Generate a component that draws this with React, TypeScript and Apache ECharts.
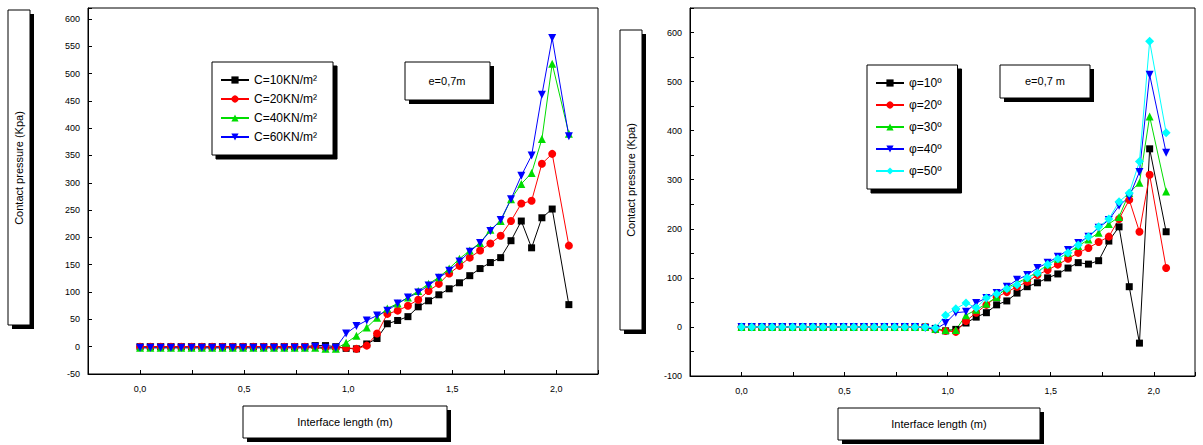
import { useEffect, useRef } from 'react';
import * as echarts from 'echarts';

// shared x positions (m): 41 evenly spaced points + last point
const xPos = [
  0, 0.0495, 0.099, 0.1485, 0.198, 0.2475, 0.297, 0.3465, 0.396, 0.4455,
  0.495, 0.5445, 0.594, 0.6435, 0.693, 0.7425, 0.792, 0.8415, 0.891, 0.9405,
  0.99, 1.0395, 1.089, 1.1385, 1.188, 1.2375, 1.287, 1.3365, 1.386, 1.4355,
  1.485, 1.5345, 1.584, 1.6335, 1.683, 1.7325, 1.782, 1.8315, 1.881, 1.9305,
  1.98, 2.06,
];

// left chart: cohesion
const c10 = [
  0, 0, 0, 0, 0, 0, 0, 0, 0, 0, 0, 0, 0, 0, 0, 0, 0, 2, 2, 0,
  -3, -4, 5, 15, 42, 48, 55, 73, 84, 95, 106, 117, 130, 143, 154, 163, 194, 230, 181, 236,
  252, 77,
];
const c20 = [
  0, 0, 0, 0, 0, 0, 0, 0, 0, 0, 0, 0, 0, 0, 0, 0, 0, 0, -2, -2,
  -2, -4, 2, 24, 60, 66, 75, 86, 102, 115, 134, 148, 163, 176, 189, 203, 230, 262, 267, 335,
  353, 185,
];
const c40 = [
  -2, -2, -2, -2, -2, -2, -2, -2, -2, -2, -2, -2, -2, -2, -2, -2, -2, -2, -4, -4,
  7, 20, 35, 53, 70, 79, 90, 102, 115, 127, 143, 161, 176, 190, 214, 230, 270, 298, 318, 380,
  518, 390,
];
const c60 = [
  -2, -2, -2, -2, -2, -2, -2, -2, -2, -2, -2, -2, -2, -2, -2, -2, -2, 0, -2, -2,
  24, 38, 48, 57, 66, 79, 90, 99, 112, 126, 139, 156, 174, 190, 212, 232, 270, 313, 350, 461,
  565, 385,
];

// right chart: friction angle
const p10 = [
  0, 0, 0, 0, 0, 0, 0, 0, 0, 0, 0, 0, 0, 0, 0, 0, 0, 0, 0, -3,
  -8, -5, 8, 20, 29, 45, 53, 69, 82, 90, 100, 108, 120, 131, 128, 135, 175, 204, 82, -33,
  363, 194,
];
const p20 = [
  0, 0, 0, 0, 0, 0, 0, 0, 0, 0, 0, 0, 0, 0, 0, 0, 0, 0, 0, -5,
  -8, -10, 12, 29, 45, 61, 71, 82, 92, 106, 116, 127, 139, 151, 161, 173, 184, 220, 259, 194,
  310, 120,
];
const p30 = [
  0, 0, 0, 0, 0, 0, 0, 0, 0, 0, 0, 0, 0, 0, 0, 0, 0, 0, 0, -4,
  -6, -6, 24, 35, 47, 61, 80, 90, 100, 112, 127, 139, 151, 165, 178, 192, 210, 224, 273, 294,
  429, 276,
];
const p40 = [
  0, 0, 0, 0, 0, 0, 0, 0, 0, 0, 0, 0, 0, 0, 0, 0, 0, 0, -2, -5,
  8, 29, 31, 49, 59, 69, 82, 96, 106, 120, 131, 143, 157, 171, 184, 202, 218, 247, 265, 316,
  514, 355,
];
const p50 = [
  0, 0, 0, 0, 0, 0, 0, 0, 0, 0, 0, 0, 0, 0, 0, 0, 0, 0, 0, -2,
  24, 37, 49, 39, 59, 67, 78, 86, 100, 110, 127, 139, 151, 167, 184, 204, 220, 255, 273, 337,
  582, 396,
];

const leftNames = ['C=10KN/m²', 'C=20KN/m²', 'C=40KN/m²', 'C=60KN/m²'];
const rightNames = ['φ=10º', 'φ=20º', 'φ=30º', 'φ=40º', 'φ=50º'];

const FONT = 'Liberation Sans, Arial, sans-serif';
const invTri = 'path://M0,0 L10,0 L5,9 Z';

function pairs(ys: number[]) {
  return ys.map((y, i) => [xPos[i], y]);
}

function boxed(x: number, y: number, w: number, h: number, children: any[] = []) {
  return [
    { type: 'rect', shape: { x: x + 4, y: y + 4, width: w, height: h }, style: { fill: '#000' } },
    { type: 'rect', shape: { x, y, width: w, height: h }, style: { fill: '#fff', stroke: '#000', lineWidth: 1 } },
    ...children,
  ];
}

export default function App() {
  const ref = useRef<HTMLDivElement>(null);

  useEffect(() => {
    if (!ref.current) return;
    const chart = echarts.init(ref.current, undefined, { renderer: 'svg' });

    const xAxisBase = {
      type: 'value',
      min: -0.25,
      max: 2.2,
      interval: 0.25,
      axisLine: { show: true, onZero: false, lineStyle: { color: '#000' } },
      axisTick: { show: true, inside: true, length: 4, lineStyle: { color: '#000' } },
      axisLabel: {
        color: '#000', fontSize: 9, fontFamily: FONT, margin: 10,
        formatter: (v: number) => (Math.abs(v * 2 - Math.round(v * 2)) < 1e-6 && v >= 0
          ? v.toFixed(1).replace('.', ',') : ''),
      },
      splitLine: { show: false },
    };
    const yAxisBase = {
      type: 'value',
      axisLine: { show: true, onZero: false, lineStyle: { color: '#000' } },
      axisTick: { show: true, inside: true, length: 4, lineStyle: { color: '#000' } },
      axisLabel: { color: '#000', fontSize: 9, fontFamily: FONT, margin: 8 },
      splitLine: { show: false },
    };

    const mk = (name: string, data: number[], color: string, symbol: string, xi: number, size = 7) => ({
      name,
      type: 'line',
      xAxisIndex: xi,
      yAxisIndex: xi,
      data: pairs(data),
      symbol,
      symbolSize: size,
      lineStyle: { color, width: 1 },
      itemStyle: { color },
    });

    chart.setOption({
      animation: false,
      textStyle: { fontFamily: FONT },
      grid: [
        { left: 88, top: 8, width: 510, height: 366, show: true, borderColor: '#000', borderWidth: 1 },
        { left: 690, top: 8, width: 505, height: 368, show: true, borderColor: '#000', borderWidth: 1 },
      ],
      xAxis: [
        { ...xAxisBase, gridIndex: 0 },
        { ...xAxisBase, gridIndex: 1 },
      ],
      yAxis: [
        { ...yAxisBase, gridIndex: 0, min: -50, max: 620, interval: 50,
          axisLabel: { ...yAxisBase.axisLabel, formatter: (v: number) => (v > 600 ? '' : String(v)) } },
        { ...yAxisBase, gridIndex: 1, min: -100, max: 650, interval: 50,
          axisLabel: { ...yAxisBase.axisLabel, formatter: (v: number) => (v % 100 === 0 && v <= 600 ? String(v) : '') } },
      ],
      legend: [
        {
          data: leftNames, orient: 'vertical', left: 212, top: 62, itemGap: 7,
          itemWidth: 28, itemHeight: 9, padding: [12, 16, 12, 8],
          borderColor: '#000', borderWidth: 1, backgroundColor: '#fff',
          shadowColor: '#000', shadowOffsetX: 4, shadowOffsetY: 4,
          textStyle: { fontSize: 12, color: '#000', fontFamily: FONT },
        },
        {
          data: rightNames, orient: 'vertical', left: 867, top: 65, itemGap: 10,
          itemWidth: 28, itemHeight: 9, padding: [12, 16, 12, 8],
          borderColor: '#000', borderWidth: 1, backgroundColor: '#fff',
          shadowColor: '#000', shadowOffsetX: 4, shadowOffsetY: 4,
          textStyle: { fontSize: 12, color: '#000', fontFamily: FONT },
        },
      ],
      series: [
        mk(leftNames[0], c10, '#000000', 'rect', 0),
        mk(leftNames[1], c20, '#ff0000', 'circle', 0, 8),
        mk(leftNames[2], c40, '#00dd00', 'triangle', 0, 8),
        mk(leftNames[3], c60, '#0000ff', invTri, 0, 8),
        mk(rightNames[0], p10, '#000000', 'rect', 1),
        mk(rightNames[1], p20, '#ff0000', 'circle', 1, 8),
        mk(rightNames[2], p30, '#00dd00', 'triangle', 1, 8),
        mk(rightNames[3], p40, '#0000ff', invTri, 1, 8),
        mk(rightNames[4], p50, '#00ffff', 'diamond', 1, 9),
      ],
      graphic: [
        ...boxed(405, 62, 85, 38, [
          { type: 'text', x: 447, y: 81, style: { text: 'e=0,7m', fontSize: 11, fontFamily: FONT, fill: '#000', align: 'center', verticalAlign: 'middle' } },
        ]),
        ...boxed(1000, 65, 90, 33, [
          { type: 'text', x: 1045, y: 81, style: { text: 'e=0,7 m', fontSize: 11, fontFamily: FONT, fill: '#000', align: 'center', verticalAlign: 'middle' } },
        ]),
        ...boxed(8, 10, 22, 315, [
          { type: 'text', x: 19, y: 168, rotation: Math.PI / 2, style: { text: 'Contact pressure (Kpa)', fontSize: 11, fontFamily: FONT, fill: '#000', align: 'center', verticalAlign: 'middle' } },
        ]),
        ...boxed(620, 30, 22, 300, [
          { type: 'text', x: 631, y: 180, rotation: Math.PI / 2, style: { text: 'Contact pressure (Kpa)', fontSize: 11, fontFamily: FONT, fill: '#000', align: 'center', verticalAlign: 'middle' } },
        ]),
        ...boxed(243, 406, 204, 32, [
          { type: 'text', x: 345, y: 422, style: { text: 'Interface length (m)', fontSize: 11, fontFamily: FONT, fill: '#000', align: 'center', verticalAlign: 'middle' } },
        ]),
        ...boxed(838, 408, 202, 32, [
          { type: 'text', x: 939, y: 424, style: { text: 'Interface length (m)', fontSize: 11, fontFamily: FONT, fill: '#000', align: 'center', verticalAlign: 'middle' } },
        ]),
      ],
    });

    return () => chart.dispose();
  }, []);

  return <div ref={ref} style={{ width: 1203, height: 445, position: 'absolute', left: 0, top: 0, background: '#fff' }} />;
}
